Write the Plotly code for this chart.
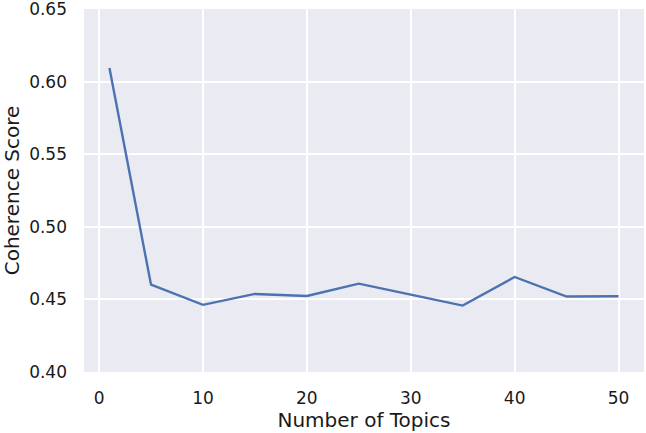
import plotly.graph_objects as go

num_topics = [1, 5, 10, 15, 20, 25, 30, 35, 40, 45, 50]
coherence = [0.6094, 0.4601, 0.4462, 0.4537, 0.4523, 0.4608, 0.4532, 0.4457, 0.4654, 0.4519, 0.4521]

x_ticks = [0, 10, 20, 30, 40, 50]
y_ticks = [0.40, 0.45, 0.50, 0.55, 0.60, 0.65]

fig = go.Figure()
fig.add_trace(
    go.Scatter(
        x=num_topics,
        y=coherence,
        mode="lines",
        line=dict(color="#4C72B0", width=2.4),
        showlegend=False,
    )
)

font_family = "DejaVu Sans"
fig.update_layout(
    width=646,
    height=433,
    margin=dict(l=84, r=2, t=9, b=61),
    paper_bgcolor="#ffffff",
    plot_bgcolor="#EAEAF2",
    font=dict(family=font_family, size=17, color="#1a1a1a"),
)
fig.update_xaxes(
    range=[-1.45, 52.45],
    tickvals=x_ticks,
    ticktext=[str(v) for v in x_ticks],
    showgrid=True,
    gridcolor="#ffffff",
    gridwidth=1.6,
    zeroline=False,
    showline=False,
    ticks="",
    automargin=False,
    ticklabelstandoff=14,
    ticklabeloverflow="allow",
    title=dict(text="Number of Topics", font=dict(size=20), standoff=2),
)
fig.update_yaxes(
    range=[0.3999, 0.6501],
    tickvals=y_ticks,
    ticktext=[f"{v:.2f}" for v in y_ticks],
    showgrid=True,
    gridcolor="#ffffff",
    gridwidth=1.6,
    zeroline=False,
    showline=False,
    ticks="",
    automargin=False,
    ticklabelstandoff=16,
    ticklabeloverflow="allow",
    title=dict(text="Coherence Score", font=dict(size=20), standoff=4),
)

# page body has a default 8px margin; drop it so the figure sits at the corner
fig.write_html(
    "out.html",
    config={"displayModeBar": False},
    post_script="document.body.style.margin='0';",
)
